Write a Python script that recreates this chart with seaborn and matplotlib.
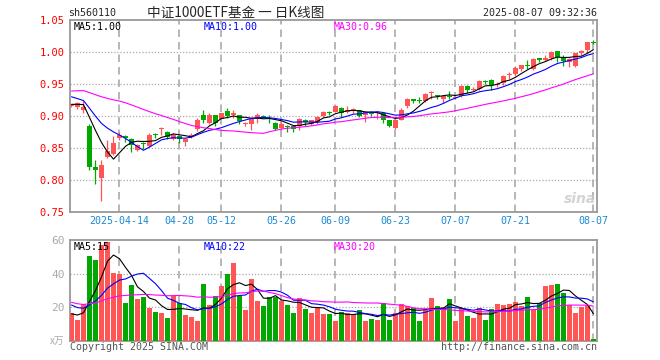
import numpy as np
import pandas as pd
import matplotlib
matplotlib.use("Agg")
import matplotlib.pyplot as plt
import seaborn as sns

# closes / volumes before the first visible day, only used to warm up the MAs
prior_close = [0.905, 0.910, 0.912, 0.915, 0.920, 0.922, 0.925, 0.929,
               0.945, 0.955, 0.960, 0.966, 0.970, 0.968, 0.965, 0.962, 0.960, 0.964,
               0.960, 0.957,
               0.948, 0.945, 0.940, 0.938, 0.938,
               0.920, 0.916, 0.920, 0.917]
prior_volume = [38, 35, 36, 35, 21, 19, 14, 16, 15,
                24, 22, 20, 23, 25, 21, 22, 24, 20, 22, 22,
                28, 26, 30, 25, 24,
                16, 15, 17, 15.6]

opens = [0.915, 0.914, 0.910, 0.885, 0.821, 0.803, 0.836, 0.840, 0.865, 0.868,
         0.864, 0.847, 0.857, 0.853, 0.872, 0.879, 0.875, 0.864, 0.868, 0.859,
         0.867, 0.879, 0.902, 0.889, 0.901, 0.896, 0.908, 0.901, 0.901, 0.888,
         0.887, 0.896, 0.900, 0.897, 0.889, 0.882, 0.885, 0.885, 0.884, 0.894,
         0.887, 0.890, 0.900, 0.907, 0.907, 0.913, 0.906, 0.909, 0.909, 0.901,
         0.907, 0.905, 0.905, 0.893, 0.881, 0.894, 0.915, 0.926, 0.925, 0.923,
         0.936, 0.932, 0.927, 0.931, 0.928, 0.932, 0.947, 0.941, 0.942, 0.955,
         0.957, 0.949, 0.952, 0.964, 0.965, 0.974, 0.980, 0.973, 0.990, 0.988,
         0.991, 1.001, 0.992, 0.984, 0.978, 0.998, 1.003, 1.015]
highs = [0.919, 0.922, 0.923, 0.887, 0.832, 0.832, 0.862, 0.868, 0.875, 0.871,
         0.865, 0.857, 0.859, 0.874, 0.874, 0.883, 0.876, 0.873, 0.869, 0.865,
         0.874, 0.897, 0.910, 0.905, 0.902, 0.905, 0.913, 0.910, 0.902, 0.891,
         0.897, 0.904, 0.901, 0.902, 0.891, 0.890, 0.886, 0.886, 0.897, 0.895,
         0.894, 0.900, 0.908, 0.908, 0.917, 0.914, 0.916, 0.913, 0.910, 0.908,
         0.908, 0.908, 0.906, 0.894, 0.895, 0.912, 0.928, 0.927, 0.929, 0.936,
         0.939, 0.932, 0.933, 0.939, 0.932, 0.948, 0.949, 0.946, 0.956, 0.956,
         0.958, 0.953, 0.964, 0.968, 0.978, 0.980, 0.987, 0.990, 0.991, 0.996,
         1.001, 1.002, 0.996, 0.991, 0.999, 1.003, 1.016, 1.018]
lows = [0.914, 0.911, 0.905, 0.816, 0.793, 0.767, 0.835, 0.839, 0.863, 0.860,
        0.843, 0.846, 0.849, 0.852, 0.866, 0.871, 0.864, 0.863, 0.858, 0.853,
        0.865, 0.876, 0.889, 0.888, 0.884, 0.895, 0.897, 0.897, 0.887, 0.885,
        0.878, 0.889, 0.897, 0.889, 0.878, 0.878, 0.875, 0.875, 0.878, 0.884,
        0.886, 0.888, 0.898, 0.901, 0.906, 0.899, 0.905, 0.905, 0.898, 0.890,
        0.900, 0.896, 0.889, 0.883, 0.879, 0.893, 0.913, 0.921, 0.921, 0.922,
        0.927, 0.927, 0.921, 0.927, 0.927, 0.930, 0.936, 0.939, 0.941, 0.950,
        0.941, 0.946, 0.949, 0.958, 0.963, 0.970, 0.973, 0.972, 0.985, 0.986,
        0.987, 0.984, 0.978, 0.977, 0.977, 0.995, 0.999, 1.012]
closes = [0.918, 0.920, 0.914, 0.820, 0.815, 0.824, 0.846, 0.858, 0.870, 0.865,
          0.855, 0.855, 0.856, 0.871, 0.871, 0.880, 0.867, 0.871, 0.864, 0.864,
          0.871, 0.893, 0.893, 0.902, 0.889, 0.904, 0.900, 0.905, 0.892, 0.889,
          0.896, 0.902, 0.899, 0.895, 0.880, 0.887, 0.883, 0.880, 0.896, 0.890,
          0.893, 0.899, 0.907, 0.904, 0.915, 0.905, 0.910, 0.910, 0.900, 0.907,
          0.903, 0.906, 0.894, 0.884, 0.894, 0.910, 0.926, 0.924, 0.924, 0.935,
          0.937, 0.931, 0.932, 0.930, 0.930, 0.947, 0.940, 0.942, 0.954, 0.953,
          0.949, 0.950, 0.963, 0.965, 0.975, 0.979, 0.978, 0.989, 0.988, 0.991,
          1.000, 0.992, 0.986, 0.989, 0.998, 1.002, 1.015, 1.014]
volumes = [16.4, 12.4, 21.8, 50.8, 48.4, 57.4, 59.4, 40.4, 39.8, 22.4,
           33.4, 25.0, 26.4, 19.8, 17.0, 16.4, 13.4, 26.8, 22.4, 15.4,
           14.2, 11.8, 34.0, 21.4, 26.8, 32.8, 40.0, 46.8, 26.8, 18.4,
           37.0, 23.8, 21.0, 26.4, 26.4, 23.8, 21.4, 16.8, 25.8, 19.0,
           16.8, 20.4, 15.8, 16.2, 11.8, 17.4, 16.8, 15.8, 18.4, 11.8,
           13.0, 12.4, 22.6, 12.4, 16.6, 22.0, 21.0, 19.4, 11.8, 18.4,
           25.6, 20.8, 20.4, 25.0, 11.8, 19.4, 14.8, 13.6, 19.6, 12.4,
           18.8, 22.0, 21.4, 22.0, 23.4, 20.8, 26.2, 18.4, 22.6, 32.8,
           33.4, 34.0, 28.4, 21.4, 16.6, 20.2, 21.4, 0.8]

tick_idx = [8, 18, 25, 35, 44, 54, 64, 74, 87]
tick_labels = ["2025-04-14", "04-28", "05-12", "05-26", "06-09",
               "06-23", "07-07", "07-21", "08-07"]
price_ticks = [0.75, 0.80, 0.85, 0.90, 0.95, 1.00, 1.05]
vol_ticks = [20, 40, 60]

RED = "#ff5555"
GREEN = "#00a800"
MA_COLORS = {5: "black", 10: "#0000ff", 30: "#ff00ff"}
MONO = "DejaVu Sans Mono"
GRID = "#aaaaaa"

sns.set_style("white")
plt.rcParams["font.family"] = [MONO, "Noto Sans CJK SC"]

n = len(closes)
idx = np.arange(n)
df = pd.DataFrame({"open": opens, "high": highs, "low": lows,
                   "close": closes, "volume": volumes}, index=idx)
df["up"] = df["close"] >= df["open"]
colors = np.where(df["up"], RED, GREEN)

all_close = pd.Series(prior_close + closes)
all_vol = pd.Series(prior_volume + volumes)
k = len(prior_close)
for w in (5, 10, 30):
    df[f"ma{w}"] = all_close.rolling(w).mean().iloc[k:].values
    df[f"vma{w}"] = all_vol.rolling(w).mean().iloc[k:].values

W, H = 660, 360
fig = plt.figure(figsize=(6.6, 3.6), dpi=100)
ax = fig.add_axes([70 / W, 1 - 212 / H, 527 / W, 192 / H])
axv = fig.add_axes([70 / W, 1 - 340.5 / H, 527 / W, 100.5 / H])

xlim = (-0.25, 87.6)

# candles
body_lo = df[["open", "close"]].min(axis=1)
body_h = (df["close"] - df["open"]).abs().clip(lower=0.0016)
ax.vlines(idx, df["low"], df["high"], colors=colors, lw=0.9, zorder=3)
ax.bar(idx, body_h, bottom=body_lo, width=0.82, color=colors, lw=0, zorder=3)
for w in (5, 10, 30):
    sns.lineplot(x=idx, y=df[f"ma{w}"].values, ax=ax, color=MA_COLORS[w],
                 lw=0.8, zorder=4, legend=False)

# volume
axv.bar(idx, df["volume"], width=0.82, color=colors, lw=0, zorder=3)
for w in (5, 10, 30):
    sns.lineplot(x=idx, y=df[f"vma{w}"].values, ax=axv, color=MA_COLORS[w],
                 lw=0.8, zorder=4, legend=False)

for a, ylo, yhi, hlines in ((ax, 0.75, 1.05, price_ticks[1:-1]),
                            (axv, 0, 60.3, vol_ticks[:-1])):
    a.set_xlim(*xlim)
    a.set_ylim(ylo, yhi)
    for t in tick_idx:
        a.axvline(t, color=GRID, lw=1.2, ls=(0, (4.5, 3)), zorder=1)
    for h in hlines:
        a.axhline(h, color=GRID, lw=0.9, ls=(0, (1, 1.5)), zorder=1)
    for s in a.spines.values():
        s.set_color("#999999")
        s.set_linewidth(1.3)
    a.set_xlabel("")
    a.set_ylabel("")
    a.tick_params(length=0, pad=4)

ax.set_yticks(price_ticks)
ax.set_yticklabels([f"{v:.2f}" for v in price_ticks], color="#ff0000",
                   fontsize=7.5, family=MONO)
ax.set_xticks(tick_idx)
ax.set_xticklabels(tick_labels, color="#1a8ad4", fontsize=7.2, family=MONO)
ax.tick_params(axis="x", pad=3)

axv.set_yticks(vol_ticks)
axv.set_yticklabels([str(v) for v in vol_ticks], color="#aaaaaa",
                    fontsize=8, family=MONO)
axv.set_xticks([])


def px(x, y, s, **kw):
    fig.text(x / W, 1 - y / H, s, **kw)


px(68, 13, "sh560110", fontsize=7.2, va="center", ha="left", family=MONO)
px(236, 13, "中证1000ETF基金 一 日K线图", fontsize=9.8, va="center",
   ha="center", family=["Noto Sans CJK SC", "DejaVu Sans"])
px(597, 13, "2025-08-07 09:32:36", fontsize=7.2, va="center", ha="right",
   family=MONO)

for x, s, w in ((74, "MA5:1.00", 5), (204, "MA10:1.00", 10), (334, "MA30:0.96", 30)):
    px(x, 27, s, fontsize=7.2, va="center", ha="left", color=MA_COLORS[w], family=MONO)
for x, s, w in ((74, "MA5:15", 5), (204, "MA10:22", 10), (334, "MA30:20", 30)):
    px(x, 247, s, fontsize=7.2, va="center", ha="left", color=MA_COLORS[w], family=MONO)

px(64, 341, "x万", fontsize=7, va="center", ha="right", color="#aaaaaa",
   family=["Noto Sans CJK SC", "DejaVu Sans"], style="italic")
px(70, 347, "Copyright 2025 SINA.COM", fontsize=7.2, va="center", ha="left",
   color="#555555", family=MONO)
px(597, 347, "http://finance.sina.com.cn", fontsize=7.2, va="center", ha="right",
   color="#555555", family=MONO)
px(580, 199, "sina", fontsize=10, va="center", ha="center", color="#c8c8c8",
   style="italic", weight="bold", family="DejaVu Sans", alpha=0.8)

fig.savefig("out.png", dpi=100, facecolor="white")
